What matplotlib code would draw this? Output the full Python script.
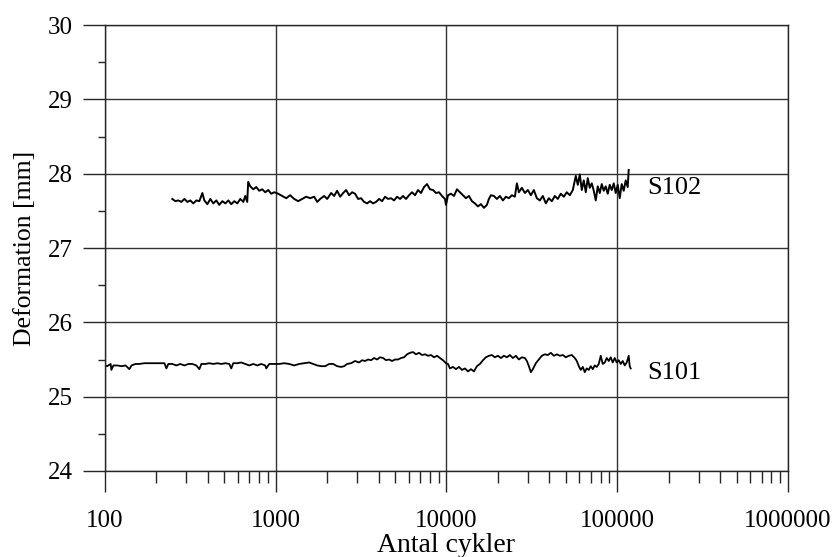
import matplotlib
matplotlib.use("Agg")
import matplotlib.pyplot as plt
from matplotlib.ticker import LogLocator, FixedLocator, FuncFormatter, NullFormatter

plt.rcParams["font.family"] = ["Liberation Serif", "DejaVu Serif"]

# specimen S102: load cycles and measured deformation [mm]
s102_cycles = [
    248, 258, 269, 280, 292, 304, 316, 329, 343, 357, 372, 382, 398, 414, 431,
    449, 467, 487, 507, 528, 549, 572, 596, 620, 646, 663, 681, 690, 709, 739,
    769, 801, 834, 868, 904, 941, 980, 1034, 1091, 1152, 1215, 1283, 1354, 1429,
    1508, 1591, 1680, 1749, 1821, 1921, 2001, 2111, 2199, 2289, 2384, 2482, 2584,
    2690, 2802, 2917, 3038, 3162, 3293, 3429, 3570, 3717, 3870, 4030, 4196, 4370,
    4549, 4736, 4932, 5135, 5347, 5567, 5798, 6036, 6284, 6544, 6813, 7094, 7386,
    7691, 8007, 8338, 8682, 9040, 9412, 9800, 9933, 10205, 10625, 11064, 11521,
    11995, 12490, 13002, 13540, 14096, 14678, 15283, 15914, 16568, 17250, 17720,
    18202, 18955, 19734, 20554, 21400, 22284, 23201, 24155, 25154, 25840, 26546,
    27637, 28780, 29966, 31202, 32487, 33820, 35220, 36670, 38190, 39760, 41400,
    43110, 44870, 46720, 48660, 50670, 52760, 54940, 57190, 58750, 60360, 62000,
    63690, 65440, 67220, 69050, 70930, 72870, 74860, 76910, 79010, 81170, 83380,
    85630, 87970, 90380, 92850, 95390, 98000, 100670, 103420, 106240, 109140,
    112110, 115170, 116730,
]
s102_deform = [
    27.66, 27.63, 27.64, 27.62, 27.66, 27.62, 27.64, 27.60, 27.64, 27.63, 27.74,
    27.64, 27.59, 27.66, 27.60, 27.64, 27.58, 27.63, 27.60, 27.64, 27.59, 27.63,
    27.60, 27.66, 27.62, 27.70, 27.62, 27.89, 27.83, 27.79, 27.82, 27.77, 27.79,
    27.75, 27.78, 27.73, 27.75, 27.73, 27.70, 27.67, 27.71, 27.66, 27.63, 27.66,
    27.69, 27.67, 27.69, 27.62, 27.66, 27.70, 27.66, 27.74, 27.70, 27.77, 27.69,
    27.74, 27.78, 27.71, 27.75, 27.73, 27.66, 27.67, 27.62, 27.60, 27.63, 27.60,
    27.62, 27.66, 27.63, 27.69, 27.66, 27.67, 27.64, 27.69, 27.66, 27.70, 27.66,
    27.71, 27.75, 27.71, 27.78, 27.74, 27.82, 27.86, 27.79, 27.78, 27.74, 27.75,
    27.70, 27.66, 27.58, 27.71, 27.73, 27.70, 27.79, 27.75, 27.71, 27.67, 27.70,
    27.63, 27.60, 27.56, 27.59, 27.54, 27.58, 27.66, 27.71, 27.70, 27.66, 27.70,
    27.64, 27.69, 27.67, 27.71, 27.69, 27.87, 27.75, 27.81, 27.74, 27.78, 27.71,
    27.78, 27.67, 27.64, 27.70, 27.60, 27.67, 27.63, 27.70, 27.66, 27.73, 27.69,
    27.75, 27.71, 27.78, 27.97, 27.85, 27.99, 27.78, 27.91, 27.75, 27.94, 27.81,
    27.87, 27.77, 27.64, 27.83, 27.74, 27.86, 27.77, 27.83, 27.73, 27.85, 27.78,
    27.87, 27.74, 27.85, 27.67, 27.86, 27.77, 27.91, 27.82, 28.05,
]

# specimen S101
s101_cycles = [
    100, 103, 108, 109, 112, 118, 125, 132, 139, 143, 151, 159, 170, 182, 195,
    208, 223, 229, 235, 248, 262, 276, 292, 308, 325, 343, 357, 367, 387, 408,
    431, 455, 480, 507, 535, 549, 564, 596, 628, 663, 700, 739, 780, 823, 868,
    880, 916, 980, 1048, 1121, 1199, 1283, 1372, 1468, 1570, 1657, 1749, 1846,
    1948, 2056, 2170, 2289, 2416, 2515, 2619, 2764, 2917, 3078, 3205, 3337, 3475,
    3618, 3767, 3923, 4084, 4253, 4428, 4610, 4801, 4999, 5205, 5419, 5643, 5875,
    6117, 6369, 6631, 6905, 7190, 7486, 7795, 8117, 8452, 8800, 9162, 9539, 9933,
    10205, 10484, 10914, 11364, 11834, 12320, 12830, 13360, 13910, 14480, 15080,
    15700, 16350, 17020, 17720, 18450, 19210, 20010, 20840, 21690, 22590, 23510,
    24480, 25490, 26546, 27637, 28780, 29570, 30380, 31202, 32060, 33370, 34750,
    36180, 37670, 39230, 40840, 42530, 44280, 46100, 48010, 49990, 52050, 54190,
    56430, 57990, 59570, 61170, 62840, 64550, 66310, 68130, 69980, 71900, 73860,
    75870, 77950, 80070, 82260, 84520, 86820, 89190, 91620, 94120, 96690, 99330,
    102050, 104840, 107690, 110630, 113660, 116730, 118300, 119900,
]
s101_deform = [
    25.42, 25.41, 25.44, 25.36, 25.42, 25.42, 25.41, 25.42, 25.37, 25.42, 25.44,
    25.44, 25.45, 25.45, 25.45, 25.45, 25.45, 25.38, 25.44, 25.44, 25.42, 25.44,
    25.42, 25.44, 25.44, 25.42, 25.37, 25.44, 25.44, 25.45, 25.44, 25.45, 25.44,
    25.45, 25.44, 25.38, 25.45, 25.45, 25.46, 25.44, 25.42, 25.44, 25.42, 25.44,
    25.42, 25.38, 25.44, 25.44, 25.44, 25.45, 25.44, 25.42, 25.44, 25.45, 25.46,
    25.44, 25.42, 25.41, 25.41, 25.44, 25.44, 25.41, 25.40, 25.41, 25.44, 25.45,
    25.48, 25.46, 25.49, 25.48, 25.50, 25.49, 25.52, 25.50, 25.53, 25.52, 25.49,
    25.50, 25.48, 25.50, 25.50, 25.52, 25.53, 25.57, 25.59, 25.60, 25.57, 25.59,
    25.56, 25.57, 25.55, 25.56, 25.53, 25.55, 25.52, 25.49, 25.45, 25.44, 25.38,
    25.40, 25.37, 25.40, 25.36, 25.38, 25.34, 25.37, 25.34, 25.41, 25.44, 25.49,
    25.53, 25.55, 25.56, 25.53, 25.55, 25.52, 25.55, 25.53, 25.56, 25.52, 25.55,
    25.50, 25.53, 25.52, 25.48, 25.41, 25.33, 25.37, 25.45, 25.50, 25.55, 25.57,
    25.56, 25.59, 25.55, 25.57, 25.55, 25.56, 25.53, 25.55, 25.56, 25.52, 25.48,
    25.41, 25.36, 25.40, 25.33, 25.38, 25.36, 25.41, 25.37, 25.42, 25.40, 25.44,
    25.55, 25.44, 25.46, 25.52, 25.48, 25.53, 25.46, 25.52, 25.46, 25.49, 25.44,
    25.48, 25.42, 25.46, 25.55, 25.41, 25.38,
]

x_ticks = [100, 1000, 10000, 100000, 1000000]
y_ticks = [24, 25, 26, 27, 28, 29, 30]
y_minor = [24.5, 25.5, 26.5, 27.5, 28.5, 29.5]

fig = plt.figure(figsize=(8.35, 5.57), dpi=100)
ax = fig.add_axes([0.1257, 0.1544, 0.8180, 0.8007])

ax.plot(s102_cycles, s102_deform, color="black", lw=1.4)
ax.plot(s101_cycles, s101_deform, color="black", lw=1.3)

ax.set_xscale("log")
ax.set_xlim(100, 1000000)
ax.set_ylim(24, 30)

ax.xaxis.set_major_locator(FixedLocator(x_ticks))
ax.xaxis.set_minor_locator(LogLocator(base=10, subs=range(2, 10)))
ax.xaxis.set_major_formatter(FuncFormatter(lambda v, p: f"{int(round(v))}"))
ax.xaxis.set_minor_formatter(NullFormatter())
ax.yaxis.set_major_locator(FixedLocator(y_ticks))
ax.yaxis.set_minor_locator(FixedLocator(y_minor))

ax.grid(True, which="major", color="0.2", lw=1.0)
ax.set_axisbelow(True)
for s in ax.spines.values():
    s.set_color("0.15")
    s.set_linewidth(1.0)

ax.tick_params(axis="x", which="major", direction="out", length=15, width=1.0,
               pad=13, labelsize=18, color="0.15")
ax.tick_params(axis="x", which="minor", direction="out", length=8.5, width=1.0,
               color="0.15")
ax.tick_params(axis="y", which="major", direction="out", length=16, width=1.0,
               pad=7, labelsize=18, color="0.15")
ax.tick_params(axis="y", which="minor", direction="out", length=5, width=1.0,
               color="0.15")

ax.set_xlabel("Antal cykler", fontsize=20, labelpad=1)
ax.set_ylabel("Deformation [mm]", fontsize=18.5, labelpad=9)

ax.text(150000, 27.81, "S102", fontsize=19, va="center", ha="left")
ax.text(150000, 25.32, "S101", fontsize=19, va="center", ha="left")

fig.savefig("out.png", dpi=100)
